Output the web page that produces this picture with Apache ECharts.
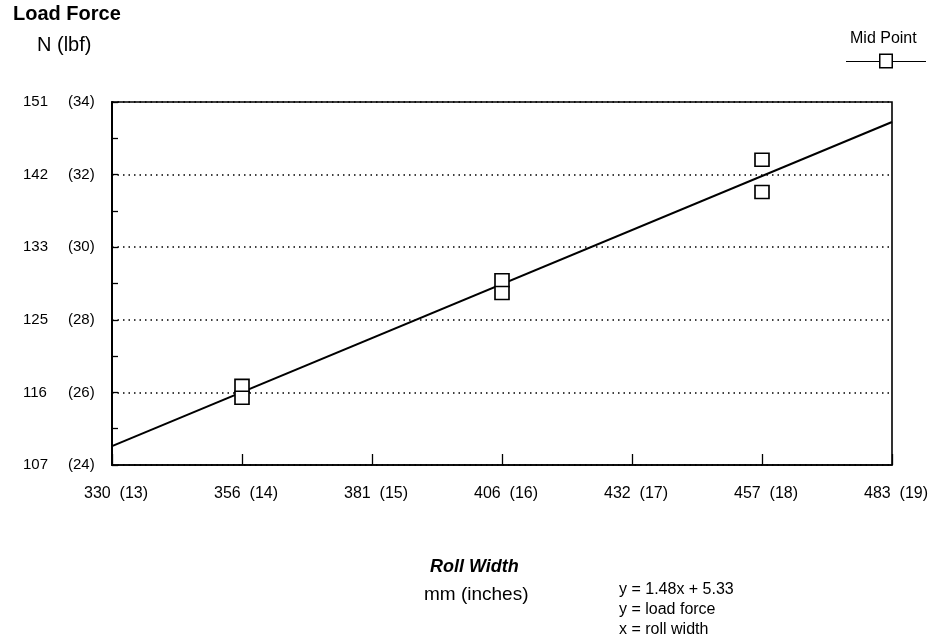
<!DOCTYPE html>
<html>
<head>
<meta charset="utf-8">
<script src="https://cdn.jsdelivr.net/npm/echarts@6/dist/echarts.min.js"></script>
<style>html,body{margin:0;padding:0;background:#fff}#c{width:943px;height:640px}</style>
</head>
<body>
<div id="c"></div>
<script>
// Roll width in inches (x) and mm labels
const xTicksIn = [13, 14, 15, 16, 17, 18, 19];
const xTicksMm = [330, 356, 381, 406, 432, 457, 483];
// Load force in lbf (y) and N labels
const yTicksLbf = [24, 26, 28, 30, 32, 34];
const yTicksN = [107, 116, 125, 133, 142, 151];
// Mid Point measurements (x inches, y lbf)
const midX = [14, 14, 16, 16, 18, 18];
const midY = [26.18, 25.85, 29.09, 28.74, 32.41, 31.52];
// Fit line endpoints y = 1.48x + 5.33 (read at axis edges)
const fitX = [13, 19];
const fitY = [24.52, 33.45];

const FONT = '"Liberation Sans", Arial, Helvetica, sans-serif';
const chart = echarts.init(document.getElementById('c'), null, {renderer: 'canvas'});

const legendIcon = 'path://M0,8 L33,8 L33,9 L0,9 Z M33,0.5 L47,0.5 L47,15.5 L33,15.5 Z M34.5,14 L45.5,14 L45.5,2 L34.5,2 Z M47,8 L80,8 L80,9 L47,9 Z';

function t(text, left, top, size, weight, style) {
  return {text: text, left: left, top: top, padding: 0,
    textStyle: {fontFamily: FONT, fontSize: size, fontWeight: weight || 'normal', fontStyle: style || 'normal', color: '#000'}};
}

chart.setOption({
  animation: false,
  backgroundColor: '#fff',
  textStyle: {fontFamily: FONT, color: '#000'},
  title: [
    t('Load Force', 13, 4, 20, 'bold'),
    t('N (lbf)', 37, 35, 20),
    t('Mid Point', 850, 31, 16),
    t('Roll Width', 430, 558, 18, 'bold', 'italic'),
    t('mm (inches)', 424, 585, 19),
    t('y = 1.48x + 5.33', 619, 582, 16),
    t('y = load force', 619, 602, 16),
    t('x = roll width', 619, 622, 16)
  ],
  legend: {
    data: [{name: 'Mid Point', icon: legendIcon}],
    left: 846, top: 53, padding: 0,
    itemWidth: 80, itemHeight: 16,
    formatter: () => '',
    itemStyle: {color: '#000', borderWidth: 0},
    selectedMode: false
  },
  grid: {left: 112, right: 51, top: 102, bottom: 175, show: true, borderColor: '#000', borderWidth: 1.6, backgroundColor: 'transparent'},
  xAxis: {
    type: 'value', min: 13, max: 19, interval: 1,
    axisLine: {lineStyle: {color: '#000', width: 1.6}},
    axisTick: {show: true, inside: true, length: 11, lineStyle: {color: '#000', width: 1.3}},
    splitLine: {show: false},
    axisLabel: {
      margin: 21, fontSize: 16, color: '#000', fontFamily: FONT, padding: [0, 0, 0, 8],
      formatter: v => { const i = xTicksIn.indexOf(v); return i < 0 ? '' : xTicksMm[i] + '  (' + v + ')'; }
    }
  },
  yAxis: {
    type: 'value', min: 24, max: 34, interval: 2,
    axisLine: {show: true, lineStyle: {color: '#000', width: 2}},
    axisTick: {show: true, inside: true, length: 6, lineStyle: {color: '#000', width: 1.3}},
    minorTick: {show: true, splitNumber: 2, length: 6, lineStyle: {color: '#000', width: 1.3}},
    splitLine: {show: true, lineStyle: {color: '#000', type: [1.5, 4], width: 1.5}},
    axisLabel: {
      margin: 14, align: 'right', color: '#000', fontFamily: FONT,
      formatter: v => { const i = yTicksLbf.indexOf(v); return i < 0 ? '' : '{a|' + yTicksN[i] + '}{b|(' + v + ')}'; },
      rich: {
        a: {width: 45, align: 'left', fontSize: 15, fontFamily: FONT, color: '#000'},
        b: {width: 30, align: 'left', fontSize: 15, fontFamily: FONT, color: '#000'}
      }
    }
  },
  series: [
    {
      name: 'fit', type: 'line', data: fitX.map((x, i) => [x, fitY[i]]),
      showSymbol: false, symbol: 'none', lineStyle: {color: '#000', width: 2}, z: 3, silent: true
    },
    {
      name: 'Mid Point', type: 'scatter', data: midX.map((x, i) => [x, midY[i]]),
      symbol: 'rect', symbolSize: [14, 13],
      itemStyle: {color: '#fff', borderColor: '#000', borderWidth: 1.6, opacity: 1}, z: 5
    }
  ]
});
</script>
</body>
</html>
